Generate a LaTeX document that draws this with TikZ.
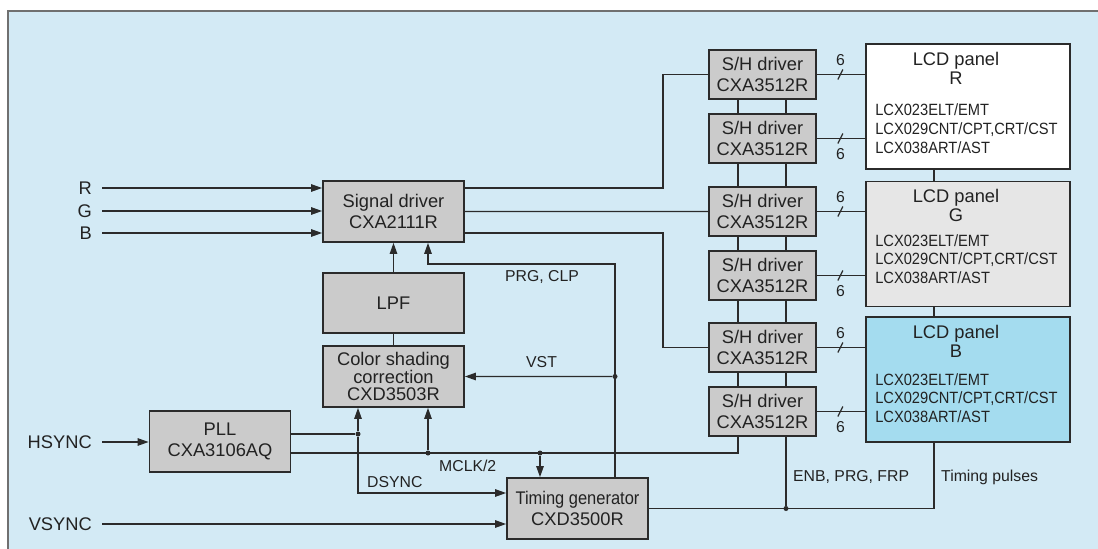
\documentclass[tikz,border=0pt]{standalone}
\usepackage{fontspec}
\usepackage{graphicx}
\setmainfont{Liberation Sans}
\newfontfamily\narrowfont[FakeStretch=0.9]{Liberation Sans}
\usetikzlibrary{arrows.meta}
\usetikzlibrary{positioning}

\definecolor{bgblue}{HTML}{D3EAF5}
\definecolor{framegray}{HTML}{707070}
\definecolor{boxgray}{HTML}{CBCBCB}
\definecolor{panelgray}{HTML}{E6E6E6}
\definecolor{panelblue}{HTML}{A4DCEF}
\definecolor{linec}{HTML}{2B2B2B}
\definecolor{txtc}{HTML}{222222}

\newcommand{\blkfont}{\fontsize{18.3}{21.5}\selectfont}
\newcommand{\titfont}{\fontsize{18.3}{19}\selectfont}
\newcommand{\labfont}{\fontsize{15.8}{18}\selectfont}
\newcommand{\listfont}{\narrowfont\fontsize{16.3}{18.7}\selectfont}

\begin{document}
\begin{tikzpicture}[x=1pt, y=-1pt,
        block/.style={draw=linec, line width=1.8pt, fill=boxgray, text=txtc, font=\blkfont,
            align=center, inner sep=0pt, minimum width=141pt, minimum height=61pt},
        shdrv/.style={block, minimum width=107pt, minimum height=49pt},
        panel/.style={draw=linec, line width=1.8pt, minimum width=204pt, minimum height=125pt},
        paneltitle/.style={text=txtc, font=\titfont, align=center, inner sep=0pt},
        paneltext/.style={text=txtc, font=\listfont, align=left, inner sep=0pt, anchor=west},
        wire/.style={draw=linec, line width=1.2pt},
        arr/.style={wire, -{Triangle[length=11pt, width=7.5pt]}},
        junction/.style={circle, fill=linec, inner sep=0pt, minimum size=5pt},
        lab/.style={text=txtc, font=\labfont, inner sep=0pt},
        inlab/.style={text=txtc, font=\blkfont, inner sep=0pt, anchor=east}]
        \useasboundingbox (0,0) rectangle (1098,549);
        \fill[bgblue] (8,11) rectangle (1098,549);
        \draw[framegray, line width=1.2pt] (8,549) -- (8,11) -- (1098,11);

        % signal path
        \node[block] (sig) at (393.5,211.5) {Signal driver\\CXA2111R};
        \node[block, below=29.2pt of sig, minimum height=60pt] (lpf) {LPF};
        \node[block, below=11.2pt of lpf, font=\fontsize{18.3}{17.5}\selectfont] (csc) {Color shading\\correction\\CXD3503R};
        \node[block] (pll) at (220,441.5) {PLL\\CXA3106AQ};
        \node[block] (tg) at (577.5,508.5) {\scalebox{0.9}[1]{Timing generator}\\CXD3500R};

        \node[shdrv] (sh1) at (762.5,74.5) {S/H driver\\CXA3512R};
        \node[shdrv, below=13.2pt of sh1] (sh2) {S/H driver\\CXA3512R};
        \node[shdrv, below=22.2pt of sh2] (sh3) {S/H driver\\CXA3512R};
        \node[shdrv, below=13.2pt of sh3] (sh4) {S/H driver\\CXA3512R};
        \node[shdrv, below=21.2pt of sh4] (sh5) {S/H driver\\CXA3512R};
        \node[shdrv, below=13.2pt of sh5] (sh6) {S/H driver\\CXA3512R};

        \node[panel, fill=white] (lcdr) at (968,106.5) {};
        \node[panel, fill=panelgray, below=10.7pt of lcdr] (lcdg) {};
        \node[panel, fill=panelblue, below=8.7pt of lcdg] (lcdb) {};
        \node[paneltitle] (titr) at ([xshift=-12pt,yshift=-25.5pt]lcdr.north) {LCD panel\\R};
        \node[paneltitle] (titg) at ([xshift=-12pt,yshift=-24.5pt]lcdg.north) {LCD panel\\G};
        \node[paneltitle] (titb) at ([xshift=-12pt,yshift=-25.5pt]lcdb.north) {LCD panel\\B};
        \node[paneltext] (lstr) at ([xshift=10pt,yshift=-22pt]lcdr.west) {LCX023ELT/EMT\\LCX029CNT/CPT,CRT/CST\\LCX038ART/AST};
        \node[paneltext] (lstg) at ([xshift=10pt,yshift=-15pt]lcdg.west) {LCX023ELT/EMT\\LCX029CNT/CPT,CRT/CST\\LCX038ART/AST};
        \node[paneltext] (lstb) at ([xshift=10pt,yshift=-18.5pt]lcdb.west) {LCX023ELT/EMT\\LCX029CNT/CPT,CRT/CST\\LCX038ART/AST};

        % inputs
        \node[inlab] (inr) at (92,188) {R};
        \node[inlab] (ing) at (92,211) {G};
        \node[inlab] (inb) at (92,233) {B};
        \node[inlab] (inh) at (92,442) {HSYNC};
        \node[inlab] (inv) at (92,524) {VSYNC};
        \draw[arr] ([xshift=10pt]inr.east) -- (inr -| sig.west);
        \draw[arr] ([xshift=10pt]ing.east) -- (ing -| sig.west);
        \draw[arr] ([xshift=10pt]inb.east) -- (inb -| sig.west);
        \draw[arr] ([xshift=10pt]inh.east) -- (inh -| pll.west);
        \draw[arr] ([xshift=10pt]inv.east) -- (inv -| tg.west);

        \draw[wire] (inr -| sig.east) -- ++(198pt,0pt) |- (sh1);
        \draw[wire] (sig.east) -- (sh3.west);
        \draw[wire] (inb -| sig.east) -- ++(198pt,0pt) |- (sh5);
        \draw[arr] (lpf) -- (sig);
        \draw[wire] (csc) -- (lpf);

        % junctions
        \node[junction] (dvst) at (615,376.5) {};
        \node[junction] (dds) at (358,434) {};
        \node[junction] (dm1) at (428,453) {};
        \node[junction] (dm2) at (540,453) {};
        \node[junction] (dtp) at (786,508.5) {};

        \draw[arr] (dvst |- tg.north) |- ([xshift=34.5pt,yshift=-21pt]sig.south) -- ([xshift=34.5pt]sig.south);
        \draw[arr] (dvst) -- (csc.east);
        \draw[wire] (pll.east |- dds) -- (dds);
        \draw[arr] (dds) -- (dds |- csc.south);
        \draw[arr] (dds) |- ([yshift=15.5pt]tg.west);
        \draw[wire] (pll.east |- dm1) -| ([xshift=-24.5pt]sh6.south);
        \draw[arr] (dm1) -- (dm1 |- csc.south);
        \draw[arr] (dm2) -- (dm2 |- tg.north);
        \draw[wire] (tg.east) -| ([xshift=-34pt]lcdb.south);
        \draw[wire] ([xshift=23.5pt]sh6.south) -- (dtp);
        \draw[wire] ([xshift=-34pt]lcdr.south) -- ([xshift=-34pt]lcdg.north);
        \draw[wire] ([xshift=-34pt]lcdg.south) -- ([xshift=-34pt]lcdb.north);

        \foreach \a/\b in {1/2,2/3,3/4,4/5,5/6} {
            \draw[wire] ([xshift=-24.5pt]sh\a.south) -- ([xshift=-24.5pt]sh\b.north);
            \draw[wire] ([xshift=23.5pt]sh\a.south) -- ([xshift=23.5pt]sh\b.north);
        }
        \foreach \s/\p/\dy in {1/lcdr/14, 2/lcdr/-16, 3/lcdg/14, 4/lcdg/-16, 5/lcdb/14, 6/lcdb/-16} {
            \draw[wire] (sh\s.east) -- (sh\s -| \p.west);
            \draw[wire] ([xshift=21pt,yshift=-5pt]sh\s.east) -- ++(5pt,10pt);
            \node[lab] (six\s) at ([xshift=23.5pt,yshift=\dy pt]sh\s.east) {6};
        }

        % signal names
        \node[lab, anchor=west] (lprg) at (505,277) {PRG, CLP};
        \node[lab, anchor=west] (lvst) at (526,362) {VST};
        \node[lab, anchor=west] (lds) at (367,482) {DSYNC};
        \node[lab, anchor=west] (lmclk) at (439,466) {MCLK/2};
        \node[lab, anchor=west] (lenb) at (793,477) {ENB, PRG, FRP};
        \node[lab, anchor=west] (ltp) at (941,477) {Timing pulses};
\end{tikzpicture}
\end{document}
